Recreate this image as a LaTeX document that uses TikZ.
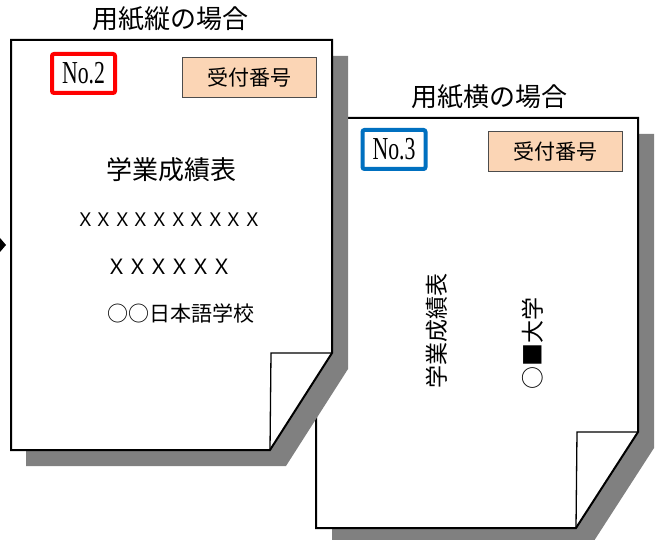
\documentclass[tikz,border=0pt]{standalone}
\usepackage{fontspec}
\setmainfont{Noto Sans CJK JP}
\newfontfamily\latinfont{Liberation Serif}
\usetikzlibrary{calc}
\definecolor{peach}{HTML}{FBD5B5}
\definecolor{shadowgray}{HTML}{808080}
\definecolor{nored}{HTML}{FF0000}
\definecolor{noblue}{HTML}{0070C0}
\newcommand{\fs}[1]{\fontsize{#1}{#1}\selectfont}
\newcommand{\numtext}[1]{\scalebox{0.68}[1]{\latinfont No.#1}}
\tikzset{
    paper/.style={draw=black, line width=2pt, fill=white},
    shadow/.style={fill=shadowgray},
    flap/.style={draw=black, line width=1.3pt},
    numbox/.style={draw=#1, line width=4pt, rounded corners=2pt, inner sep=0pt,
        minimum width=63pt, minimum height=39pt, font=\fs{32}},
    uketsuke/.style={draw=black!70, fill=peach, line width=1pt, inner sep=0pt,
        minimum width=134pt, minimum height=40pt, font=\fs{21}},
    label/.style={inner sep=0pt},
}

\begin{document}
\begin{tikzpicture}[x=1pt, y=-1pt]
    \useasboundingbox (0,0) rectangle (656,540);
    % sheet in landscape use
    \fill [shadow] (332,134) -- (654,134) -- (654,448) -- (592,544) -- (332,544) -- cycle;
    \draw [paper] (316,118) -- (638,118) -- (638,432) -- (576,528) -- (316,528) -- cycle;
    \draw [flap] (638,432) -- (577,432) -- (576,528);
    % sheet in portrait use
    \fill [shadow] (26,56) -- (348,56) -- (348,369) -- (286,466) -- (26,466) -- cycle;
    \draw [paper] (11,40) -- (332,40) -- (332,353) -- (270,450) -- (11,450) -- cycle;
    \draw [flap] (332,353) -- (271,353) -- (270,450);
    \fill (0,238) -- (6,245) -- (0,252) -- (-6,245) -- cycle;

    \node [label, font=\fs{26}] (tate) at (170,19) {用紙縦の場合};
    \node [numbox=nored] (no2) at (83.5,73.5) {\numtext{2}};
    \node [uketsuke] (uke1) at (249,78) {受付番号};
    \node [label, font=\fs{26}] (title1) at (171,170) {学業成績表};
    \node [label, font=\fs{18.6}] (name1) at (169,220) {ＸＸＸＸＸＸＸＸＸＸ};
    \node [label, font=\fs{21}] (name2) at (169,267) {ＸＸＸＸＸＸ};
    \node [label, font=\fs{21}] (school) at (181,313) {○○日本語学校};

    \node [label, font=\fs{26}] (yoko) at (489,97) {用紙横の場合};
    \node [numbox=noblue] (no3) at (394,149.5) {\numtext{3}};
    \node [uketsuke] (uke2) at (555,152) {受付番号};
    \node [label, font=\fs{23}, rotate=90] (title2) at (437,331) {学業成績表};
    \node [label, font=\fs{23}, rotate=90] (univ) at (533,343) {○■大学};
\end{tikzpicture}
\end{document}
